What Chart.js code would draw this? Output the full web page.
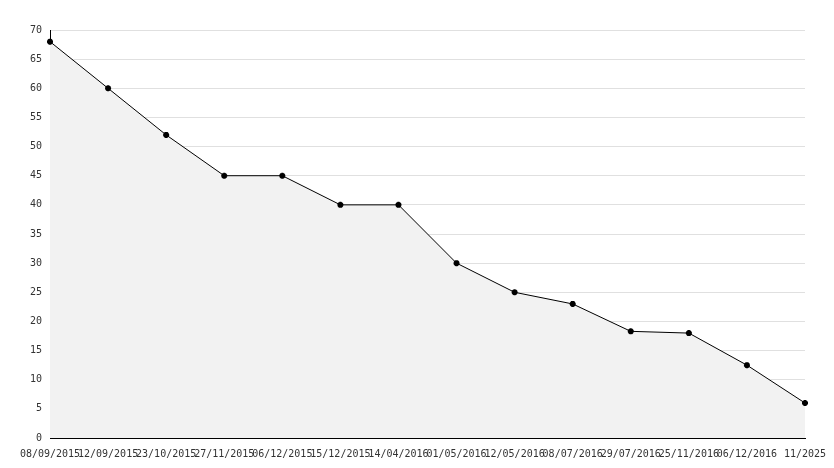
<!DOCTYPE html>
<html><head><meta charset="utf-8">
<script src="https://cdn.jsdelivr.net/npm/chart.js@4"></script>
<style>html,body{margin:0;padding:0;background:#fff}#w{width:834px;height:468px}</style>
</head><body><div id="w"><canvas id="c"></canvas></div>
<script>
const categories=["08/09/2015","12/09/2015","23/10/2015","27/11/2015","06/12/2015","15/12/2015","14/04/2016","01/05/2016","12/05/2016","08/07/2016","29/07/2016","25/11/2016","06/12/2016","11/2025"];
const values=[68,60,52,45,45,40,40,30,25,23,18.3,18,12.5,6];
const yTicks=[0,5,10,15,20,25,30,35,40,45,50,55,60,65,70];
const font={family:"DejaVu Sans Mono",size:10};
new Chart(document.getElementById('c'),{
type:'line',
data:{labels:categories,datasets:[{data:values,borderColor:'#000',borderWidth:1,fill:true,backgroundColor:'#f2f2f2',
pointStyle:'star',pointRadius:3,pointBorderColor:'#000',pointBorderWidth:2,pointBackgroundColor:'#000',tension:0}]},
options:{responsive:true,maintainAspectRatio:false,animation:false,
layout:{padding:{top:30,right:29,left:0,bottom:0}},
plugins:{legend:{display:false},tooltip:{enabled:false}},
scales:{
x:{offset:false,grid:{display:false,drawTicks:true},border:{color:'#000'},
ticks:{color:'#333',font,maxRotation:0,autoSkip:false,padding:2},
afterFit(s){s.height=30;}},
y:{min:0,max:70,afterBuildTicks(s){s.ticks=yTicks.map(v=>({value:v}));},
grid:{color:'#e0e0e0',drawTicks:false},border:{color:'#000'},
ticks:{color:'#333',font,padding:8},
afterFit(s){s.width=50;}}
}}});
</script></body></html>
